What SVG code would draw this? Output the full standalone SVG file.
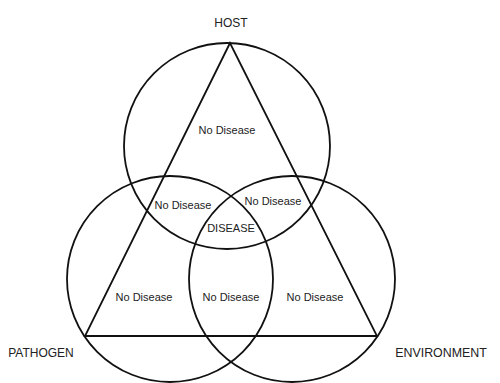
<svg xmlns="http://www.w3.org/2000/svg" width="500" height="383" viewBox="0 0 500 383">
<style>
.c{fill:none;stroke:#111;stroke-width:1.8}
.t{font-family:"Liberation Sans",Arial,sans-serif;font-size:11px;fill:#222;text-anchor:middle}
.l{font-family:"Liberation Sans",Arial,sans-serif;font-size:12px;fill:#222;text-anchor:middle}
</style>
<rect width="500" height="383" fill="#fff"/>
<g id="connectors">
<polygon class="c" points="230,43 85,336 377,336"/>
</g>
<g id="host"><circle class="c" cx="227" cy="146" r="103"/><text class="l" x="231" y="27">HOST</text></g>
<g id="pathogen"><circle class="c" cx="170" cy="279" r="103"/><text class="l" x="41" y="357">PATHOGEN</text></g>
<g id="environment"><circle class="c" cx="292" cy="279" r="103"/><text class="l" x="441" y="357" style="font-size:12.4px">ENVIRONMENT</text></g>
<g id="labels">
<text class="t" x="227" y="134">No Disease</text>
<text class="t" x="183" y="209">No Disease</text>
<text class="t" x="273" y="205">No Disease</text>
<text class="t" x="231" y="232">DISEASE</text>
<text class="t" x="144" y="301">No Disease</text>
<text class="t" x="231" y="301">No Disease</text>
<text class="t" x="315" y="301">No Disease</text>
</g>
</svg>
